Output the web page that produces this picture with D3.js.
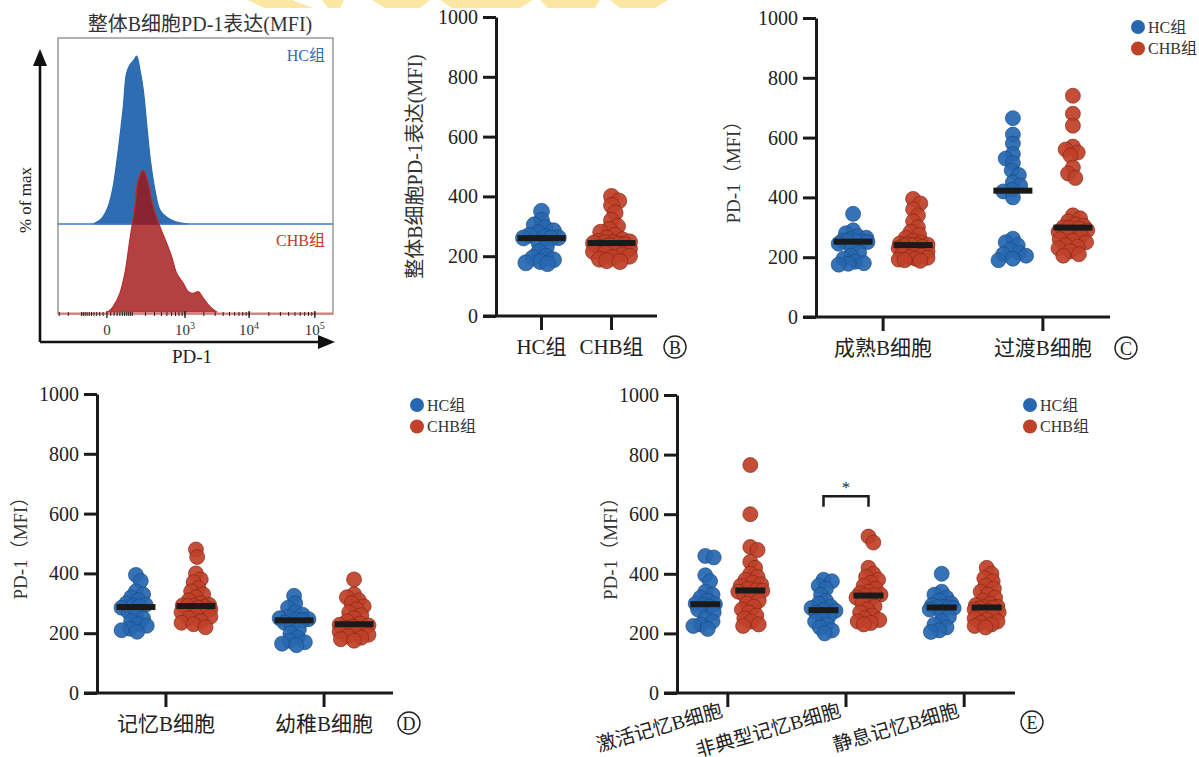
<!DOCTYPE html>
<html><head><meta charset="utf-8">
<script src="https://cdn.jsdelivr.net/npm/d3@7"></script>
<style>
body{margin:0;background:#fff;}
svg{display:block;}
text{font-family:"Liberation Serif","Noto Sans CJK SC",serif;}
</style></head><body>
<svg id="c" width="1199" height="757"></svg>
<script>
// ---------------- DATA ----------------
// Panel A: flow histogram (PD-1 value, % of max)
const histHC_x  = [-43,-14,3,17,34,54,69,86,110,128,152,179,210,245,305,377,527,685,939,1132];
const histHC_y  = [0,3.4,10.3,22.2,44,69.8,89.7,94.6,97.6,100,91.7,79.8,60,40,20.2,8.3,3.4,1.4,0.4,0];
const histCHB_x = [3,17,40,61,86,116,139,179,227,283,377,494,602,731,939,1132,1360,1634,1959,2496,3171];
const histCHB_y = [0,3.2,11.1,23,42.9,62.7,78.6,84.5,76.6,62.7,50.8,40.9,32.9,23,17.1,12.1,11.1,12.1,8.2,3.2,0];
const histTickValues = [0, 1e3, 1e4, 1e5];
const histTickBase = ["0","10","10","10"];
const histTickExp  = ["","3","4","5"];

// Shared
const groupNames = ["HC组","CHB组"];
const yTicks = [0,200,400,600,800,1000];

// Panel B
const catsB = ["HC组","CHB组"];
const totalHC  = [350,320,305,295,285,278,270,265,262,261,260,245,230,215,200,195,188,182,178,175];
const totalCHB = [400,385,370,345,320,300,290,280,270,260,255,250,248,246,245,243,240,238,235,230,225,220,215,210,205,200,195,190,185,182];

// Panel C
const catsC = ["成熟B细胞","过渡B细胞"];
const matureHC  = [345,290,280,270,265,260,255,253,253,253,251,245,230,215,205,195,185,180,178,175];
const matureCHB = [395,380,360,340,320,300,285,275,265,255,250,246,244,242,241,240,238,235,230,225,220,215,210,205,200,198,195,192,190,188];
const transHC   = [665,610,580,545,530,515,490,475,450,440,425,420,400,262,250,240,225,215,210,205,195,190];
const transCHB  = [740,680,640,570,560,550,540,500,480,465,340,330,320,310,305,300,298,296,290,285,280,275,270,260,255,250,240,235,230,220,210,205];

// Panel D
const catsD = ["记忆B细胞","幼稚B细胞"];
const memoryHC  = [395,375,340,330,320,310,300,295,292,290,285,270,260,250,240,230,225,215,210,205];
const memoryCHB = [480,455,400,380,370,350,340,330,320,310,300,295,293,292,290,288,285,280,275,270,265,260,255,250,240,235,230,220];
const naiveHC   = [325,300,285,270,262,255,250,247,245,243,235,225,212,200,185,175,170,165,160];
const naiveCHB  = [380,330,320,310,300,290,280,270,260,250,240,232,228,226,222,218,212,205,200,195,190,185,180,175];

// Panel E
const catsE = ["激活记忆B细胞","非典型记忆B细胞","静息记忆B细胞"];
const activatedHC  = [460,455,395,375,340,330,320,310,300,298,295,290,280,270,250,240,230,225,215];
const activatedCHB = [765,600,490,480,440,420,400,390,380,370,365,360,350,345,343,340,330,320,310,300,290,280,270,260,250,240,230,225];
const atypicalHC   = [380,375,360,350,330,310,300,290,285,278,276,270,260,250,240,230,220,210,200];
const atypicalCHB  = [525,505,420,400,390,380,370,360,350,340,335,330,328,326,320,310,300,290,280,270,260,250,245,240,235,230];
const restingHC    = [400,340,330,320,310,300,295,290,288,287,285,280,270,255,240,230,220,210,205];
const restingCHB   = [420,400,385,375,360,350,340,330,320,310,300,295,290,288,286,284,280,275,270,265,260,250,245,240,235,230,225,220];

// ---------------- STYLE ----------------
const COL_HC = "#2767b0", COL_HC_S = "#1b4a80";
const COL_CHB = "#bf4128", COL_CHB_S = "#7e2616";
const INK = "#1a1a1a";
const SERIF = '"Liberation Serif","Noto Sans CJK SC",serif';

const svg = d3.select("#c");

// faint watermark fragment at the top edge
svg.append("g").attr("fill","#fce7a2").selectAll("polygon")
  .data([[[248,0],[292,0],[313,8],[264,8]],[[322,0],[344,0],[340,8],[328,8]],
         [[372,0],[430,0],[420,8],[385,8]],[[440,0],[533,0],[520,8],[452,8]],
         [[540,0],[600,0],[595,8],[548,8]],[[610,0],[668,0],[655,8],[620,8]]])
  .join("polygon").attr("points",d=>d.map(p=>p.join(",")).join(" "));

// ---------------- Panel A ----------------
(function(){
  const g = svg.append("g");
  const L=58, R=333, T=38, B=314;
  const xA = d3.scaleSymlog().constant(70).domain([-317,188800]).range([L,R]);
  const laneHC = d3.scaleLinear().domain([0,100]).range([224,56]);
  const laneCHB = d3.scaleLinear().domain([0,100]).range([312,144]);

  g.append("text").attr("x",200).attr("y",31).attr("text-anchor","middle")
    .attr("font-size",20).attr("fill","#333").text("整体B细胞PD-1表达(MFI)");

  g.append("rect").attr("x",L).attr("y",T).attr("width",R-L).attr("height",B-T)
    .attr("fill","none").attr("stroke","#8a8a8a").attr("stroke-width",1.3);

  const hc = histHC_x.map((x,i)=>({x, y:histHC_y[i]}));
  const chb = histCHB_x.map((x,i)=>({x, y:histCHB_y[i]}));
  const areaHC = d3.area().x(d=>xA(d.x)).y0(laneHC(0)).y1(d=>laneHC(d.y)).curve(d3.curveCatmullRom);
  const areaCHB = d3.area().x(d=>xA(d.x)).y0(laneCHB(0)).y1(d=>laneCHB(d.y)).curve(d3.curveCatmullRom);

  g.append("path").attr("d",areaHC(hc)).attr("fill","#2f6db3").attr("stroke","#2a68b0").attr("stroke-width",1.2);
  g.append("line").attr("x1",L).attr("x2",R).attr("y1",laneHC(0)).attr("y2",laneHC(0))
    .attr("stroke","#3b7acb").attr("stroke-width",1.5);
  g.append("path").attr("d",areaCHB(chb)).attr("fill","rgb(160,18,18)").attr("fill-opacity",0.8)
    .attr("stroke","#b4302e").attr("stroke-width",1.2);
  g.append("line").attr("x1",L).attr("x2",R).attr("y1",laneCHB(0)+1.5).attr("y2",laneCHB(0)+1.5)
    .attr("stroke","#e07a7a").attr("stroke-width",2);

  // tick marks along bottom
  const minor = [];
  for (let e=1;e<=5;e++) for (let m=1;m<=9;m++){ const v=m*Math.pow(10,e); if (v<=188800) minor.push(v); }
  [-10,-20,-30,-40,-50,-60,-70,-80,-90,-100,-200,-300].forEach(v=>minor.push(v));
  g.selectAll(".mt").data(minor).join("line").attr("x1",d=>xA(d)).attr("x2",d=>xA(d))
    .attr("y1",B-2).attr("y2",B+2).attr("stroke","#222").attr("stroke-width",1);
  g.selectAll(".Mt").data(histTickValues).join("line").attr("x1",d=>xA(d)).attr("x2",d=>xA(d))
    .attr("y1",B-3).attr("y2",B+4).attr("stroke","#222").attr("stroke-width",1.3);
  const tl = g.selectAll(".tl").data(histTickValues).join("text")
    .attr("x",d=>xA(d)).attr("y",335).attr("text-anchor","middle").attr("font-size",15).attr("fill","#333");
  tl.append("tspan").text((d,i)=>histTickBase[i]);
  tl.append("tspan").attr("dy",-6).attr("font-size",10).text((d,i)=>histTickExp[i]);

  g.append("text").attr("x",325).attr("y",61).attr("text-anchor","end").attr("font-size",16)
    .attr("fill","#2c6bc0").text(groupNames[0]);
  g.append("text").attr("x",325).attr("y",246).attr("text-anchor","end").attr("font-size",16)
    .attr("fill","#c0392b").text(groupNames[1]);

  // big arrow axes
  g.append("path").attr("d","M40,342 V62 M40,342 H322").attr("stroke","#111").attr("stroke-width",2.6).attr("fill","none");
  g.append("path").attr("d","M33,66 L40,49 L47,66 Z").attr("fill","#111");
  g.append("path").attr("d","M318,335 L335,342 L318,349 Z").attr("fill","#111");
  g.append("text").attr("transform","translate(25,200) rotate(-90)").attr("text-anchor","middle")
    .attr("dominant-baseline","central").attr("font-size",17).attr("fill","#222").text("% of max");
  g.append("text").attr("x",192).attr("y",363).attr("text-anchor","middle").attr("font-size",19)
    .attr("fill","#222").text("PD-1");
})();

// ---------------- helpers ----------------
function swarm(vals, y, minDist, maxOff) {
  const pts = vals.map(v=>({v, y:y(v)})).sort((a,b)=>a.y-b.y);
  const placed = [];
  pts.forEach((p,idx)=>{
    let best = 0, bestScore = Infinity;
    for (let k=0;k<60;k++){
      const sgn = idx%2 ? 1 : -1;
      const cands = k===0 ? [0] : [sgn*k*1.2, -sgn*k*1.2];
      let found=false;
      for (const dx of cands){
        if (Math.abs(dx)>maxOff) continue;
        let minD = Infinity;
        placed.forEach(q=>{ minD = Math.min(minD, Math.hypot(q.dx-dx, q.y-p.y)); });
        if (minD >= minDist){ best=dx; found=true; break; }
        const score = -minD;
        if (score<bestScore){ bestScore=score; best=dx; }
      }
      if (found) break;
    }
    p.dx = best; placed.push(p);
  });
  return pts;
}

function circLetter(x,y,l){
  svg.append("circle").attr("cx",x).attr("cy",y).attr("r",11).attr("fill","none").attr("stroke","#222").attr("stroke-width",1.4);
  svg.append("text").attr("x",x).attr("y",y+6.5).attr("text-anchor","middle").attr("font-size",18).attr("fill","#222").text(l);
}

function legend(x,y){
  const g = svg.append("g");
  [[COL_HC,groupNames[0]],[COL_CHB,groupNames[1]]].forEach((d,i)=>{
    g.append("circle").attr("cx",x).attr("cy",y+i*21.5).attr("r",7).attr("fill",d[0]);
    g.append("text").attr("x",x+10).attr("y",y+i*21.5+5.5).attr("font-size",16).attr("fill","#333").text(d[1]);
  });
}

function dotPanel(cfg){
  const g = svg.append("g");
  const y = d3.scaleLinear().domain([0,1000]).range([cfg.yBottom,cfg.yTop]);
  const x = d3.scalePoint().domain(cfg.cats).range([cfg.axisX,cfg.xEnd]).padding(cfg.pad);
  const gx = d3.scalePoint().domain(["HC","CHB"]).range([-cfg.off,cfg.off]);

  // dots
  cfg.series.forEach(s=>{
    s.vals.forEach((vals,ci)=>{
      if(!vals) return;
      const cx = x(cfg.cats[ci]) + (cfg.off ? gx(s.key) : 0);
      const pts = swarm(vals, y, cfg.r*1.0, cfg.spread);
      g.selectAll(null).data(pts).join("circle")
        .attr("cx",d=>cx+d.dx).attr("cy",d=>d.y).attr("r",cfg.r)
        .attr("fill",s.color).attr("fill-opacity",0.93)
        .attr("stroke",s.stroke).attr("stroke-width",0.8).attr("stroke-opacity",0.8);
    });
  });
  // medians
  cfg.series.forEach(s=>{
    s.vals.forEach((vals,ci)=>{
      if(!vals) return;
      const cx = x(cfg.cats[ci]) + (cfg.off ? gx(s.key) : 0);
      g.append("rect").attr("x",cx-cfg.bar/2).attr("y",y(d3.median(vals))-3)
        .attr("width",cfg.bar).attr("height",6).attr("fill",INK);
    });
  });

  // y axis
  const ya = g.append("g").attr("transform",`translate(${cfg.axisX},0)`)
    .call(d3.axisLeft(y).tickValues(yTicks).tickFormat(d3.format("d")).tickSize(13).tickSizeOuter(0).tickPadding(5));
  ya.attr("font-family",SERIF);
  ya.select(".domain").attr("stroke",INK).attr("stroke-width",3);
  ya.selectAll(".tick line").attr("stroke",INK).attr("stroke-width",3);
  ya.selectAll(".tick text").attr("font-size",20).attr("fill","#222").attr("font-family",SERIF);

  // x axis
  g.append("line").attr("x1",cfg.axisX-13).attr("x2",cfg.xEnd).attr("y1",cfg.yBottom).attr("y2",cfg.yBottom)
    .attr("stroke",INK).attr("stroke-width",3);
  g.selectAll(null).data(cfg.cats).join("line")
    .attr("x1",d=>x(d)).attr("x2",d=>x(d)).attr("y1",cfg.yBottom).attr("y2",cfg.yBottom+14)
    .attr("stroke",INK).attr("stroke-width",3);
  if (cfg.rotate){
    g.selectAll(null).data(cfg.cats).join("text")
      .attr("transform",d=>`translate(${x(d)-4},${cfg.yBottom+23}) rotate(${cfg.rotate})`)
      .attr("text-anchor","end").attr("font-size",19.5).attr("fill","#222").text(d=>d);
  } else {
    g.selectAll(null).data(cfg.cats).join("text")
      .attr("x",d=>x(d)).attr("y",cfg.yBottom+38).attr("text-anchor","middle")
      .attr("font-size",21).attr("fill","#222").text(d=>d);
  }
  // y title
  g.append("text").attr("transform",`translate(${cfg.titleX},${(cfg.yTop+cfg.yBottom)/2+0}) rotate(-90)`)
    .attr("text-anchor","middle").attr("dominant-baseline","central")
    .attr("font-size",cfg.titleSize).attr("fill","#333").text(cfg.title);
  return {x,y,gx};
}

// Panel B
dotPanel({axisX:496,yBottom:316,yTop:17,xEnd:657,pad:0.65,off:0,bar:48,r:8,spread:18,
  cats:catsB, title:"整体B细胞PD-1表达(MFI)", titleX:415, titleSize:20,
  series:[{key:"HC",color:COL_HC,stroke:COL_HC_S,vals:[totalHC,null]},
          {key:"CHB",color:COL_CHB,stroke:COL_CHB_S,vals:[null,totalCHB]}]});
circLetter(675,347,"B");

// Panel C
dotPanel({axisX:816,yBottom:317,yTop:18,xEnd:1110,pad:0.42,off:30,bar:39,r:7.5,spread:15,
  cats:catsC, title:"PD-1（MFI）", titleX:733, titleSize:19,
  series:[{key:"HC",color:COL_HC,stroke:COL_HC_S,vals:[matureHC,transHC]},
          {key:"CHB",color:COL_CHB,stroke:COL_CHB_S,vals:[matureCHB,transCHB]}]});
legend(1138,27);
circLetter(1126,348,"C");

// Panel D
dotPanel({axisX:97,yBottom:693,yTop:394,xEnd:393,pad:0.436,off:30,bar:39,r:7.5,spread:15,
  cats:catsD, title:"PD-1（MFI）", titleX:20, titleSize:19,
  series:[{key:"HC",color:COL_HC,stroke:COL_HC_S,vals:[memoryHC,naiveHC]},
          {key:"CHB",color:COL_CHB,stroke:COL_CHB_S,vals:[memoryCHB,naiveCHB]}]});
legend(417,405);
circLetter(409,723,"D");

// Panel E
const pe = dotPanel({axisX:677,yBottom:693,yTop:395,xEnd:1015,pad:0.43,off:22.5,bar:30,r:7.5,spread:13,
  cats:catsE, title:"PD-1（MFI）", titleX:610, titleSize:19, rotate:-16,
  series:[{key:"HC",color:COL_HC,stroke:COL_HC_S,vals:[activatedHC,atypicalHC,restingHC]},
          {key:"CHB",color:COL_CHB,stroke:COL_CHB_S,vals:[activatedCHB,atypicalCHB,restingCHB]}]});
legend(1030,405);
circLetter(1032,722,"E");
// significance bracket
(function(){
  const cx = pe.x(catsE[1]);
  const x1 = cx+pe.gx("HC"), x2 = cx+pe.gx("CHB");
  const yTop = pe.y(660), yLeg = pe.y(625);
  svg.append("path").attr("d",`M${x1},${yLeg} V${yTop} H${x2} V${yLeg}`)
    .attr("fill","none").attr("stroke",INK).attr("stroke-width",2.5);
  svg.append("text").attr("x",(x1+x2)/2).attr("y",yTop-3).attr("text-anchor","middle")
    .attr("font-size",16).attr("fill","#222").text("*");
})();
</script>
</body></html>
